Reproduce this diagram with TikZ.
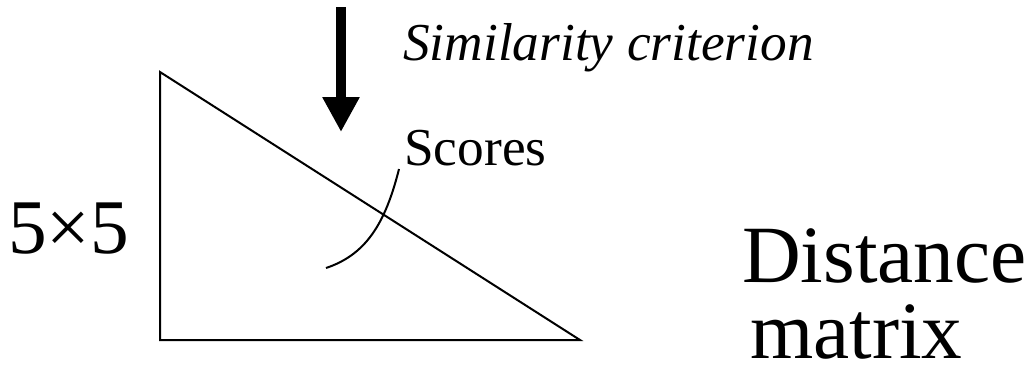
\documentclass[tikz,border=0pt]{standalone}
\usepackage{fontspec}
\setmainfont{Liberation Serif}
\usetikzlibrary{arrows.meta}
\tikzstyle{lbl}=[inner sep=0pt,anchor=base west]
\tikzstyle{edge}=[draw=black,line width=1.5pt]
\tikzstyle{crit}=[-{Triangle[width=26.25pt,length=26.25pt]},draw=black,line width=7.5pt]

\begin{document}
\begin{tikzpicture}[x=0.75pt,y=-0.75pt]
  \useasboundingbox (0,0) rectangle (1029,368);
  % distance matrix (lower triangle)
  \draw[edge,line join=miter] (160,72) -- (160,340) -- (580,340) -- cycle;
  % labels
  \node[lbl,font=\fontsize{40}{48}\selectfont\itshape] (crit) at (403,60) {Similarity criterion};
  \node[lbl,font=\fontsize{40}{48}\selectfont] (scores) at (404,165) {Scores};
  \node[lbl,font=\fontsize{58}{66}\selectfont] (size) at (8,253) {5×5};
  \node[lbl,font=\fontsize{61}{70}\selectfont] (dist) at (742,282) {Distance};
  \node[lbl,font=\fontsize{61}{70}\selectfont] (mat) at (750,358) {matrix};
  % criterion arrow
  \coordinate (arrtop) at (341,7);
  \coordinate (arrtip) at (341,132);
  \draw[crit] (arrtop) -- (arrtip);
  % leader to scores
  \coordinate (inside) at (326,268);
  \coordinate (lead) at (399,169);
  \draw[edge] (inside) .. controls (365,255) and (385,225) .. (lead);
\end{tikzpicture}
\end{document}
